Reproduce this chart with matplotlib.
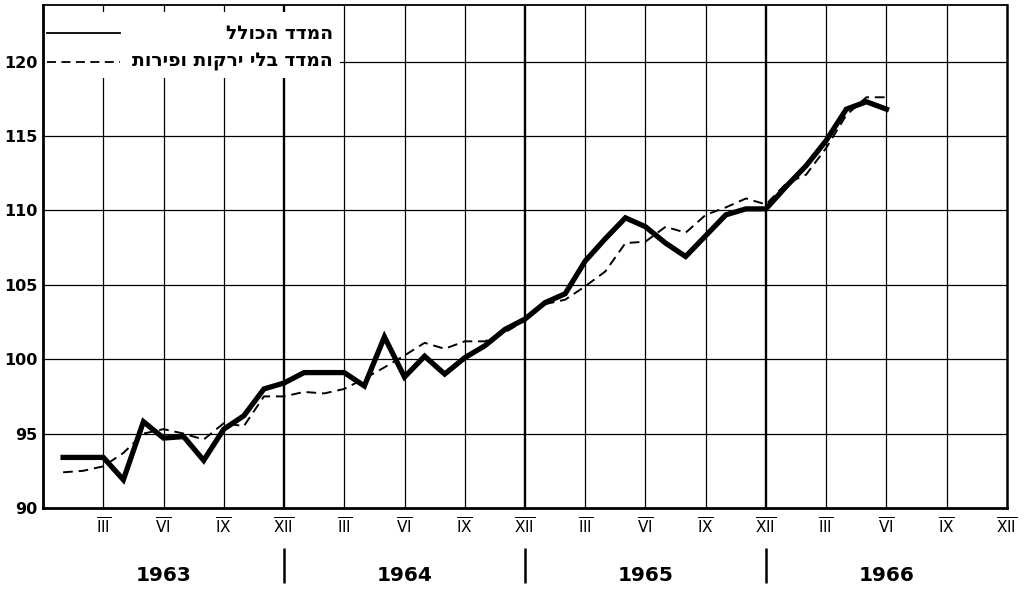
import matplotlib
matplotlib.use('Agg')
import matplotlib.pyplot as plt
import matplotlib.transforms as mtransforms
from matplotlib.patches import Rectangle
from matplotlib.mathtext import MathTextParser

# ---- data (month index: 1 = Jan 1963 ... 42 = Jun 1966) ----
months = list(range(1, 43))
total_index = [93.4, 93.4, 93.4, 91.9, 95.8, 94.7, 94.8, 93.2, 95.3, 96.2, 98.0, 98.4,
               99.1, 99.1, 99.1, 98.2, 101.5, 98.8, 100.2, 99.0, 100.1, 100.9, 102.0, 102.7,
               103.8, 104.4, 106.6, 108.1, 109.5, 108.9, 107.8, 106.9, 108.3, 109.7, 110.1, 110.1,
               111.6, 113.0, 114.7, 116.8, 117.3, 116.8]
excl_index = [92.4, 92.5, 92.8, 93.7, 95.0, 95.3, 95.0, 94.6, 95.7, 95.5, 97.5, 97.5,
              97.8, 97.7, 98.0, 98.7, 99.45, 100.25, 101.1, 100.7, 101.2, 101.2, 101.8, 102.6,
              103.7, 104.0, 104.9, 105.9, 107.8, 107.9, 108.9, 108.5, 109.7, 110.2, 110.8, 110.4,
              111.8, 112.4, 114.2, 116.4, 117.6, 117.6]
quarter_ticks = list(range(3, 49, 3))
quarter_labels = ['III', 'VI', 'IX', 'XII'] * 4
years = ['1963', '1964', '1965', '1966']
y_ticks = [90, 95, 100, 105, 110, 115, 120]
label_total = 'המדד הכולל'
label_excl = 'המדד בלי ירקות ופירות'


def rtl(s):
    return s[::-1]


# check whether mathtext supports \underline
try:
    MathTextParser('agg').parse(r'$\underline{x}$', dpi=72)
    has_under = True
except Exception:
    has_under = False


def roman(s):
    if has_under:
        return r'$\overline{\underline{\mathrm{%s}}}$' % s
    return r'$\overline{\mathrm{%s}}$' % s


fig = plt.figure(figsize=(10.27, 5.89), dpi=100)
ax = fig.add_axes([0.0419, 0.1375, 0.9386, 0.854])
ax.set_xlim(0, 48)
ax.set_ylim(90, 123.8)

# grid
for q in quarter_ticks[:-1]:
    ax.axvline(q, color='black', lw=1.7 if q % 12 == 0 else 0.9, zorder=1)
for yv in y_ticks[1:]:
    ax.axhline(yv, color='black', lw=0.9, zorder=1)

for side, lw in [('left', 2.0), ('bottom', 2.0), ('top', 1.3), ('right', 1.8)]:
    ax.spines[side].set_linewidth(lw)
    ax.spines[side].set_color('black')

# legend background
ax.add_patch(Rectangle((0.0015, 0.855), 0.307, 0.131, transform=ax.transAxes,
                       facecolor='white', edgecolor='none', zorder=2))

# data lines
ax.plot(months, excl_index, color='black', lw=1.4, dashes=(5, 3), zorder=3)
ax.plot(months, total_index, color='black', lw=3.8, solid_joinstyle='miter', zorder=4)

# legend
ax.plot([0.004, 0.080], [0.944, 0.944], transform=ax.transAxes, color='black', lw=1.3, zorder=5)
ax.plot([0.004, 0.080], [0.887, 0.887], transform=ax.transAxes, color='black', lw=1.3,
        dashes=(5, 3), zorder=5)
ax.text(0.301, 0.944, rtl(label_total), transform=ax.transAxes, ha='right', va='center',
        fontsize=13.5, fontweight='bold', family='DejaVu Sans', zorder=5)
ax.text(0.301, 0.887, rtl(label_excl), transform=ax.transAxes, ha='right', va='center',
        fontsize=13.5, fontweight='bold', family='DejaVu Sans', zorder=5)

# ticks
ax.set_xticks(quarter_ticks)
ax.set_xticklabels([roman(s) for s in quarter_labels], fontsize=11)
ax.tick_params(axis='x', length=0, pad=6)
ax.set_yticks(y_ticks)
ax.set_yticklabels([str(v) for v in y_ticks], fontsize=11.5, fontweight='bold')
ax.tick_params(axis='y', length=0, pad=4)

# year labels and separators
trans = mtransforms.blended_transform_factory(ax.transData, ax.transAxes)
for i, yr in enumerate(years):
    ax.text(i * 12 + 6, -0.135, yr, transform=trans, ha='center', va='center',
            fontsize=14.5, fontweight='heavy')
ax.vlines([12, 24, 36], -0.149, -0.080, transform=trans, colors='black', lw=1.8, clip_on=False)

fig.savefig('out.png', dpi=100, facecolor='white')
